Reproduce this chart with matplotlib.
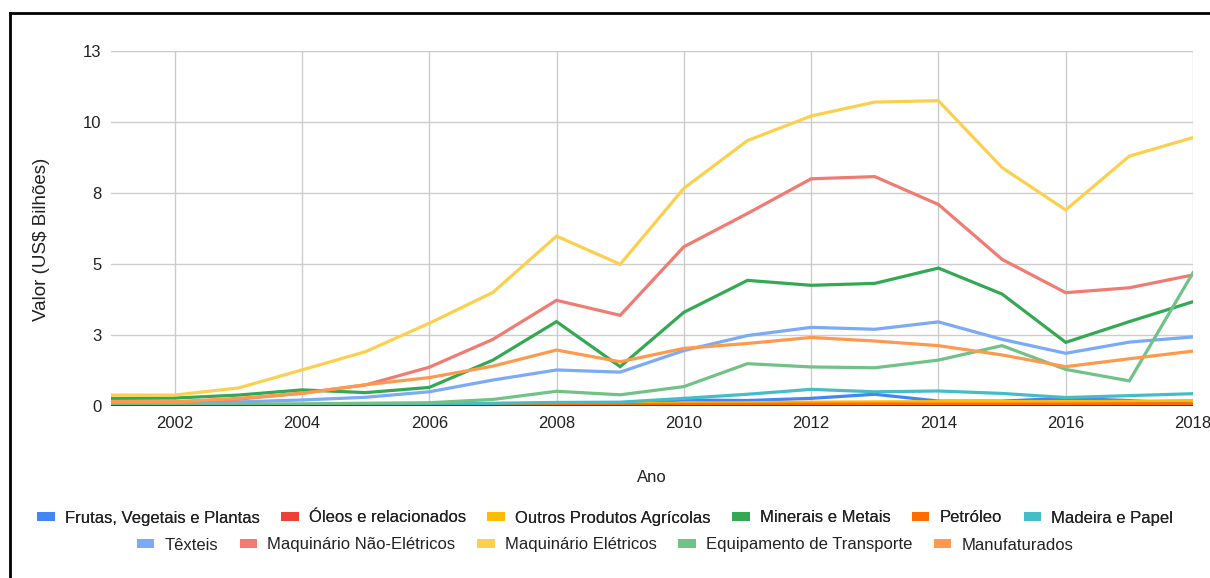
import matplotlib
matplotlib.use("Agg")
import matplotlib.pyplot as plt
from matplotlib.patches import Patch
from matplotlib.lines import Line2D
import numpy as np

plt.rcParams['font.family'] = ['Liberation Sans', 'DejaVu Sans']

anos = list(range(2001, 2019))

series_nomes = [
    "Frutas, Vegetais e Plantas", "Óleos e relacionados", "Outros Produtos Agrícolas",
    "Minerais e Metais", "Petróleo", "Madeira e Papel",
    "Têxteis", "Maquinário Não-Elétricos", "Maquinário Elétricos",
    "Equipamento de Transporte", "Manufaturados",
]

frutas = [0.03, 0.03, 0.04, 0.05, 0.06, 0.07, 0.08, 0.10, 0.12, 0.22, 0.20, 0.28, 0.43, 0.18, 0.18, 0.28, 0.20, 0.07]
oleos = [0.01, 0.01, 0.01, 0.01, 0.01, 0.01, 0.01, 0.02, 0.02, 0.02, 0.02, 0.03, 0.03, 0.03, 0.03, 0.03, 0.03, 0.03]
outros_agric = [0.03, 0.03, 0.04, 0.05, 0.05, 0.06, 0.07, 0.08, 0.08, 0.10, 0.12, 0.14, 0.15, 0.16, 0.16, 0.16, 0.17, 0.20]
minerais = [0.28, 0.29, 0.40, 0.59, 0.49, 0.68, 1.68, 3.09, 1.44, 3.43, 4.60, 4.42, 4.49, 5.05, 4.10, 2.33, 3.09, 3.82]
petroleo = [0.02, 0.02, 0.02, 0.03, 0.03, 0.03, 0.04, 0.05, 0.05, 0.06, 0.06, 0.07, 0.07, 0.07, 0.07, 0.07, 0.08, 0.08]
madeira = [0.03, 0.03, 0.04, 0.05, 0.06, 0.07, 0.10, 0.13, 0.14, 0.28, 0.43, 0.61, 0.52, 0.55, 0.46, 0.31, 0.38, 0.45]
texteis = [0.10, 0.10, 0.15, 0.22, 0.32, 0.52, 0.95, 1.32, 1.24, 2.03, 2.58, 2.88, 2.81, 3.08, 2.44, 1.93, 2.34, 2.53]
maq_nao_eletricos = [0.15, 0.15, 0.25, 0.47, 0.77, 1.42, 2.44, 3.87, 3.32, 5.83, 7.05, 8.32, 8.40, 7.38, 5.37, 4.15, 4.33, 4.80]
maq_eletricos = [0.40, 0.40, 0.66, 1.32, 1.99, 3.03, 4.16, 6.22, 5.19, 7.97, 9.72, 10.62, 11.13, 11.18, 8.73, 7.18, 9.15, 9.83]
equip_transporte = [0.05, 0.05, 0.07, 0.08, 0.10, 0.12, 0.24, 0.54, 0.41, 0.71, 1.55, 1.43, 1.40, 1.68, 2.21, 1.34, 0.92, 4.88]
manufaturados = [0.16, 0.15, 0.28, 0.46, 0.78, 1.04, 1.46, 2.05, 1.62, 2.11, 2.29, 2.51, 2.38, 2.21, 1.87, 1.44, 1.73, 2.01]

valores = [frutas, oleos, outros_agric, minerais, petroleo, madeira,
           texteis, maq_nao_eletricos, maq_eletricos, equip_transporte, manufaturados]

cores = ["#4285f4", "#ea4335", "#fbbc04", "#34a853", "#ff6d01", "#46bdc6",
         "#7baaf7", "#f07b72", "#fcd04f", "#71c287", "#ff994d"]

W, H = 1210, 578
fig = plt.figure(figsize=(W / 100, H / 100), dpi=100)
ax = fig.add_axes([111 / W, 1 - 406 / H, (1193 - 111) / W, (406 - 51) / H])

for nome, ys, cor in zip(series_nomes, valores, cores):
    ax.plot(anos, ys, color=cor, lw=2.3, solid_joinstyle='miter', label=nome, zorder=3)

ax.set_xlim(2001, 2018)
ax.set_ylim(0, 13)
yt = np.linspace(0, 13, 6)
ax.set_yticks(yt)
ax.set_yticklabels([f"{v:.0f}" for v in yt])
ax.set_xticks(range(2002, 2019, 2))

ax.grid(True, color="#cccccc", lw=1, zorder=0)
for s in ax.spines.values():
    s.set_visible(False)
ax.axhline(0, color="#333333", lw=1.2, zorder=4)
ax.tick_params(length=0, labelsize=12, colors="#222222", pad=7)

ax.set_ylabel("Valor (US$ Bilhões)", fontsize=13.5, color="#222222")
ax.yaxis.set_label_coords((50 - 111) / (1193 - 111), (406 - 239) / 355)
ax.set_xlabel("Ano", fontsize=12, color="#222222")
ax.xaxis.set_label_coords((652 - 111) / (1193 - 111), (406 - 470) / 355)

# two centred legend rows
handles = [Patch(facecolor=c, edgecolor='none') for c in cores]
leg_kw = dict(loc='center', frameon=False, fontsize=12, handlelength=1.05,
              handleheight=0.45, handletextpad=0.6, columnspacing=1.3)
row1 = fig.legend(handles[:6], series_nomes[:6], ncol=6,
                  bbox_to_anchor=(0.5, 1 - 518 / H), **leg_kw)
fig.add_artist(row1)
fig.legend(handles[6:], series_nomes[6:], ncol=5,
           bbox_to_anchor=(0.5, 1 - 545 / H), **leg_kw)
for leg in fig.legends:
    for t in leg.get_texts():
        t.set_color("#222222")

# outer frame (top and left edges)
fig.add_artist(Line2D([10 / W, 1], [1 - 13 / H, 1 - 13 / H], color='black', lw=2, transform=fig.transFigure))
fig.add_artist(Line2D([10 / W, 10 / W], [0, 1 - 13 / H], color='black', lw=2, transform=fig.transFigure))

fig.savefig("out.png", dpi=100)
